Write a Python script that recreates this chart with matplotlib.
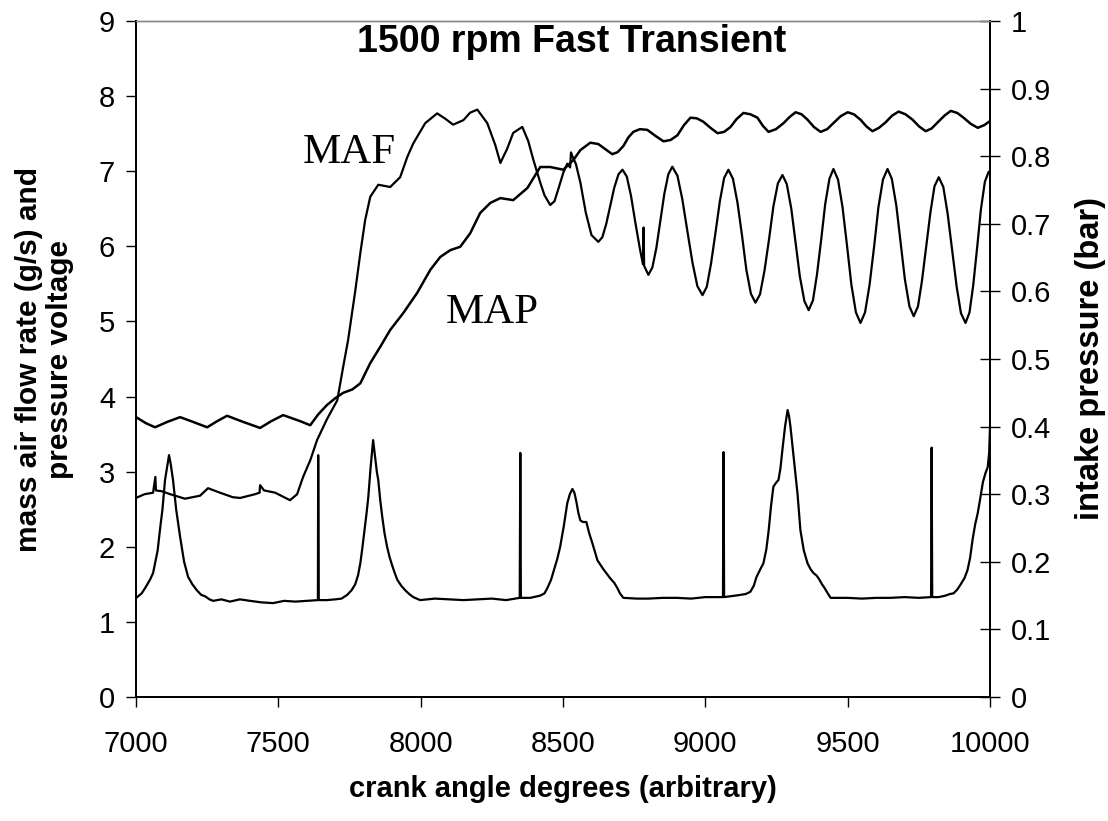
import matplotlib
matplotlib.use("Agg")
import matplotlib.pyplot as plt

# Mass air flow sensor output (g/s) against crank angle
maf_deg = [7000, 7030, 7060, 7068, 7070, 7090, 7120, 7172, 7225, 7253, 7295, 7340, 7366,
           7418, 7434, 7436, 7450, 7489, 7541, 7566, 7587, 7612, 7636, 7671, 7707,
           7728, 7745, 7770, 7788, 7805, 7823, 7851, 7893, 7928, 7953, 7974, 8016,
           8058, 8086, 8114, 8150, 8174, 8199, 8234, 8262, 8280, 8304, 8325, 8357,
           8378, 8396, 8420, 8435, 8455, 8470, 8485, 8501, 8515, 8525, 8528, 8533,
           8545, 8561, 8580, 8600, 8624,
           8638, 8652, 8666, 8680, 8695, 8709,
           8724, 8739, 8754, 8770, 8781, 8783, 8785, 8800,
           8814, 8828, 8842, 8856, 8870, 8884,
           8902, 8919, 8937, 8955, 8972, 8990,
           9005, 9020, 9036, 9051, 9066, 9081,
           9097, 9113, 9129, 9144, 9160, 9176,
           9192, 9208, 9224, 9239, 9255, 9271,
           9286, 9302, 9317, 9332, 9348, 9363,
           9378, 9392, 9407, 9421, 9436, 9450,
           9466, 9482, 9498, 9513, 9529, 9545,
           9561, 9577, 9593, 9608, 9624, 9640,
           9655, 9671, 9686, 9701, 9717, 9732,
           9747, 9761, 9776, 9791, 9805, 9820,
           9836, 9851, 9867, 9883, 9898, 9914,
           9928, 9941, 9955, 9968, 9982, 9995, 10000]
maf_gs = [2.65, 2.70, 2.72, 2.93, 2.75, 2.74, 2.70, 2.64, 2.68, 2.78, 2.72, 2.66, 2.65,
          2.70, 2.72, 2.82, 2.75, 2.72, 2.62, 2.70, 2.93, 3.15, 3.42, 3.70, 3.95,
          4.40, 4.75, 5.40, 5.91, 6.35, 6.66, 6.82, 6.79, 6.92, 7.19, 7.37, 7.64,
          7.77, 7.70, 7.62, 7.68, 7.78, 7.82, 7.64, 7.35, 7.11, 7.30, 7.51, 7.59,
          7.40, 7.15, 6.85, 6.68, 6.55, 6.60, 6.78, 6.98, 7.10, 7.05, 7.25, 7.20,
          7.10, 6.85, 6.45, 6.15, 6.06,
          6.12, 6.30, 6.54, 6.78, 6.96, 7.02,
          6.93, 6.67, 6.32, 5.97, 5.76, 6.25, 5.74, 5.62,
          5.72, 5.98, 6.34, 6.70, 6.96, 7.06,
          6.94, 6.63, 6.20, 5.78, 5.47, 5.35,
          5.46, 5.77, 6.19, 6.60, 6.91, 7.02,
          6.90, 6.58, 6.14, 5.69, 5.37, 5.25,
          5.36, 5.68, 6.10, 6.53, 6.84, 6.95,
          6.83, 6.50, 6.05, 5.60, 5.27, 5.15,
          5.28, 5.62, 6.09, 6.56, 6.90, 7.03,
          6.89, 6.52, 6.00, 5.49, 5.12, 4.98,
          5.12, 5.49, 6.00, 6.52, 6.89, 7.03,
          6.90, 6.54, 6.05, 5.56, 5.20, 5.07,
          5.20, 5.54, 6.00, 6.46, 6.80, 6.92,
          6.79, 6.44, 5.95, 5.46, 5.11, 4.98,
          5.12, 5.48, 5.99, 6.49, 6.86, 6.99, 7.00]

# Manifold absolute pressure (bar)
map_deg = [7004, 7035, 7067, 7110, 7155, 7200, 7250, 7285, 7320, 7376, 7436, 7475, 7517,
           7577, 7612, 7640, 7671, 7700, 7728, 7760, 7788, 7823, 7858, 7893, 7939,
           7988, 8034, 8069, 8104, 8139, 8174, 8209, 8245, 8280, 8325, 8375, 8420,
           8455, 8501, 8536, 8561, 8596, 8624, 8650, 8673, 8692, 8712, 8730, 8747,
           8770, 8796, 8825, 8853, 8878, 8902, 8925, 8948, 8970, 8993, 9018, 9043,
           9066, 9088, 9110, 9134, 9158, 9183, 9202, 9222, 9248, 9275, 9296, 9317,
           9338, 9359, 9382, 9405, 9428, 9450, 9475, 9500, 9522, 9545, 9566, 9587,
           9610, 9633, 9656, 9679, 9703, 9728, 9751, 9774, 9795, 9816, 9840, 9862,
           9885, 9907, 9932, 9957, 9980, 10000]
map_bar = [0.413, 0.405, 0.399, 0.407, 0.414, 0.407, 0.399, 0.408, 0.416, 0.407, 0.398, 0.408, 0.417,
           0.408, 0.402, 0.418, 0.432, 0.442, 0.450, 0.455, 0.464, 0.494, 0.518, 0.543, 0.568,
           0.598, 0.632, 0.651, 0.661, 0.666, 0.686, 0.716, 0.731, 0.738, 0.735, 0.753, 0.784,
           0.784, 0.780, 0.794, 0.809, 0.820, 0.818, 0.810, 0.803, 0.806, 0.815, 0.828, 0.836,
           0.840, 0.839, 0.830, 0.822, 0.824, 0.831, 0.846, 0.857, 0.856, 0.851, 0.842, 0.834,
           0.836, 0.843, 0.855, 0.864, 0.862, 0.857, 0.845, 0.836, 0.840, 0.849, 0.858, 0.865,
           0.862, 0.854, 0.843, 0.836, 0.840, 0.849, 0.859, 0.865, 0.862, 0.854, 0.844, 0.837,
           0.842, 0.850, 0.860, 0.866, 0.862, 0.854, 0.844, 0.837, 0.841, 0.850, 0.860, 0.867,
           0.864, 0.857, 0.848, 0.842, 0.846, 0.852]

# Pressure transducer voltage (V), with the cam marker spikes
pv_deg = [7004, 7020, 7032, 7049, 7060, 7067, 7076, 7084, 7093, 7102, 7110, 7116, 7122,
          7130, 7141, 7155, 7169, 7183, 7198, 7214, 7229, 7243, 7258, 7271, 7300, 7330,
          7365, 7401, 7440, 7482, 7520, 7560, 7600, 7636, 7639, 7640, 7642, 7670, 7700,
          7722, 7742, 7757, 7770, 7780, 7788, 7795, 7802, 7810, 7816, 7824, 7833, 7840,
          7846, 7851, 7858, 7865, 7873, 7882, 7891, 7900, 7910, 7918, 7932, 7946, 7960,
          7974, 7998, 8050, 8100, 8150, 8200, 8250, 8300, 8348, 8350, 8352, 8385, 8420,
          8435, 8445, 8458, 8469, 8480, 8490, 8503, 8515, 8524, 8533, 8540, 8547, 8554,
          8561, 8570, 8582, 8592, 8603, 8621, 8642, 8666, 8680, 8691, 8700, 8712, 8760,
          8800, 8850, 8900, 8950, 9000, 9062, 9064, 9066, 9106, 9141, 9158, 9170, 9180,
          9193, 9204, 9214, 9222, 9231, 9239, 9250, 9257, 9264, 9271, 9280, 9289, 9294,
          9299, 9305, 9310, 9317, 9324, 9334, 9346, 9359, 9370, 9380, 9390, 9398, 9410,
          9419, 9430, 9440, 9500, 9550, 9600, 9650, 9700, 9750, 9793, 9795, 9797, 9820,
          9844, 9858, 9872, 9885, 9897, 9910, 9921, 9930, 9939, 9948, 9957, 9966, 9975,
          9984, 9992, 9997, 10000]
pv_volt = [1.33, 1.38, 1.45, 1.56, 1.65, 1.78, 1.95, 2.22, 2.50, 2.89, 3.08, 3.22, 3.10,
           2.89, 2.50, 2.13, 1.80, 1.60, 1.50, 1.42, 1.36, 1.34, 1.30, 1.28, 1.30, 1.27,
           1.30, 1.28, 1.26, 1.25, 1.28, 1.27, 1.28, 1.29, 1.29, 3.22, 1.29, 1.29, 1.30,
           1.31, 1.36, 1.42, 1.50, 1.62, 1.78, 1.98, 2.20, 2.45, 2.66, 3.05, 3.42, 3.20,
           3.00, 2.89, 2.62, 2.40, 2.18, 2.00, 1.86, 1.75, 1.64, 1.56, 1.48, 1.42, 1.37,
           1.33, 1.29, 1.31, 1.30, 1.29, 1.30, 1.31, 1.29, 1.32, 3.25, 1.32, 1.32, 1.35,
           1.38, 1.45, 1.56, 1.70, 1.84, 2.00, 2.28, 2.58, 2.70, 2.77, 2.72, 2.60, 2.45,
           2.35, 2.33, 2.33, 2.18, 2.05, 1.82, 1.70, 1.58, 1.52, 1.45, 1.38, 1.32, 1.31,
           1.31, 1.32, 1.32, 1.31, 1.33, 1.33, 3.26, 1.33, 1.35, 1.37, 1.40, 1.48, 1.60,
           1.70, 1.78, 1.96, 2.20, 2.55, 2.80, 2.86, 2.89, 3.05, 3.30, 3.60, 3.82, 3.74,
           3.60, 3.38, 3.20, 2.95, 2.70, 2.22, 1.95, 1.78, 1.70, 1.65, 1.62, 1.58, 1.50,
           1.45, 1.38, 1.32, 1.32, 1.31, 1.32, 1.32, 1.33, 1.32, 1.33, 3.32, 1.33, 1.33,
           1.35, 1.37, 1.38, 1.43, 1.50, 1.58, 1.69, 1.85, 2.10, 2.30, 2.45, 2.65, 2.86,
           2.98, 3.06, 3.25, 3.60]

x_ticks = [7000, 7500, 8000, 8500, 9000, 9500, 10000]
left_ticks = [0, 1, 2, 3, 4, 5, 6, 7, 8, 9]
right_ticks = [0, 0.1, 0.2, 0.3, 0.4, 0.5, 0.6, 0.7, 0.8, 0.9, 1]
right_labels = ["0", "0.1", "0.2", "0.3", "0.4", "0.5", "0.6", "0.7", "0.8", "0.9", "1"]

sans = "Liberation Sans"
serif = "Liberation Serif"

fig = plt.figure(figsize=(11.08, 8.21), dpi=100)
ax = fig.add_axes([136 / 1108, 1 - 697 / 821, (990 - 136) / 1108, (697 - 21) / 821])
ax2 = ax.twinx()

ax.plot(maf_deg, maf_gs, color="black", lw=1.6, zorder=3)
ax.plot(pv_deg, pv_volt, color="black", lw=1.6, zorder=3)
ax2.plot(map_deg, map_bar, color="black", lw=1.8, zorder=3)

ax.set_xlim(7000, 10000)
ax.set_ylim(0, 9)
ax2.set_ylim(0, 1)

ax.set_xticks(x_ticks)
ax.set_xticklabels([str(t) for t in x_ticks], family=sans, fontsize=21)
ax.set_yticks(left_ticks)
ax.set_yticklabels([str(t) for t in left_ticks], family=sans, fontsize=21)
ax2.set_yticks(right_ticks)
ax2.set_yticklabels(right_labels, family=sans, fontsize=21)

ax.tick_params(axis="x", direction="out", length=7, width=1, pad=17)
ax.tick_params(axis="y", direction="out", length=7, width=1, pad=8)
ax2.tick_params(axis="y", direction="inout", length=14, width=1, pad=8)

for a in (ax, ax2):
    a.spines["top"].set_color("#888888")
    a.spines["top"].set_linewidth(1.0)
    a.spines["left"].set_linewidth(1.3)
    a.spines["bottom"].set_linewidth(1.3)
    a.spines["right"].set_linewidth(1.3)

ax.set_xlabel("crank angle degrees (arbitrary)", family=sans, fontweight="bold",
              fontsize=21, labelpad=12)
ax.set_ylabel("mass air flow rate (g/s) and\npressure voltage", family=sans,
              fontweight="bold", fontsize=21.5, labelpad=18, linespacing=1.12)
ax2.set_ylabel("intake pressure (bar)", family=sans, fontweight="bold",
               fontsize=23.5, labelpad=17)

ax.text(8530, 8.72, "1500 rpm Fast Transient", family=sans, fontweight="bold",
        fontsize=27, ha="center", va="center")
ax.text(7749, 7.24, "MAF", family=serif, fontsize=31, ha="center", va="center")
ax.text(8252, 5.11, "MAP", family=serif, fontsize=31, ha="center", va="center")

fig.savefig("out.png", dpi=100)
